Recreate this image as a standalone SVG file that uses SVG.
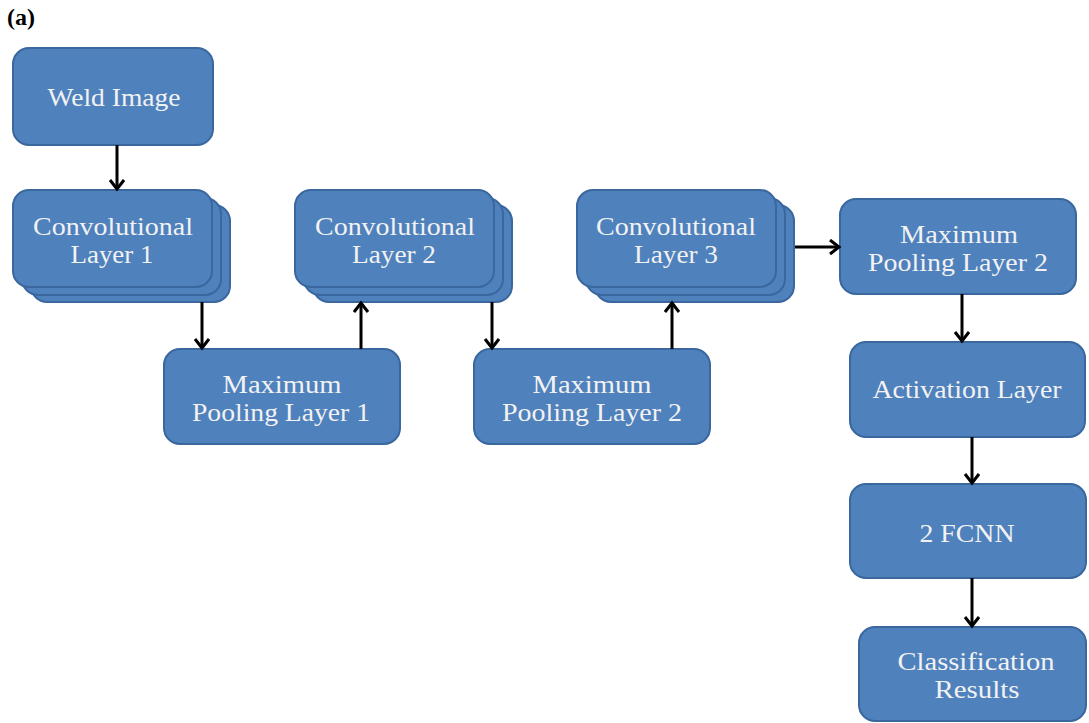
<svg xmlns="http://www.w3.org/2000/svg" width="1089" height="723" viewBox="0 0 1089 723">
<style>
.box{fill:#4F81BD;stroke:#3A679E;stroke-width:2}
.t{font-family:"Liberation Serif","Times New Roman",Times,serif;font-size:26px;fill:#F2F2F2;text-anchor:middle}
.c{fill:none;stroke:#000;stroke-width:3}
</style>
<defs>
<marker id="ah" markerUnits="userSpaceOnUse" markerWidth="20" markerHeight="20" refX="11" refY="8" orient="auto">
<path d="M2,1 L11,8 L2,15" fill="none" stroke="#000" stroke-width="3"/>
</marker>
</defs>
<rect width="1089" height="723" fill="#fff"/>
<text x="7" y="25" font-family="'Liberation Serif','Times New Roman',serif" font-weight="bold" font-size="24" fill="#000">(a)</text>

<g id="weld">
<rect class="box" x="13" y="48" width="200" height="97" rx="16"/>
<text class="t" x="114" y="106" textLength="133" lengthAdjust="spacingAndGlyphs">Weld Image</text>
</g>
<g id="conv1">
<rect class="box" x="31" y="205" width="199" height="97" rx="16"/>
<rect class="box" x="22" y="198" width="199" height="97" rx="16"/>
<rect class="box" x="13" y="190" width="199" height="97" rx="16"/>
<text class="t" x="113" y="235" textLength="160" lengthAdjust="spacingAndGlyphs">Convolutional</text>
<text class="t" x="112" y="263" textLength="83" lengthAdjust="spacingAndGlyphs">Layer 1</text>
</g>
<g id="conv2">
<rect class="box" x="313" y="205" width="199" height="97" rx="16"/>
<rect class="box" x="304" y="198" width="199" height="97" rx="16"/>
<rect class="box" x="295" y="190" width="199" height="97" rx="16"/>
<text class="t" x="395" y="235" textLength="160" lengthAdjust="spacingAndGlyphs">Convolutional</text>
<text class="t" x="394" y="263" textLength="84" lengthAdjust="spacingAndGlyphs">Layer 2</text>
</g>
<g id="conv3">
<rect class="box" x="595" y="205" width="199" height="97" rx="16"/>
<rect class="box" x="586" y="198" width="199" height="97" rx="16"/>
<rect class="box" x="577" y="190" width="199" height="97" rx="16"/>
<text class="t" x="676" y="235" textLength="160" lengthAdjust="spacingAndGlyphs">Convolutional</text>
<text class="t" x="676" y="263" textLength="84" lengthAdjust="spacingAndGlyphs">Layer 3</text>
</g>
<g id="pool1">
<rect class="box" x="164" y="349" width="236" height="95" rx="16"/>
<text class="t" x="282" y="393" textLength="119" lengthAdjust="spacingAndGlyphs">Maximum</text>
<text class="t" x="281" y="421" textLength="178" lengthAdjust="spacingAndGlyphs">Pooling Layer 1</text>
</g>
<g id="pool2">
<rect class="box" x="474" y="349" width="236" height="95" rx="16"/>
<text class="t" x="592" y="393" textLength="119" lengthAdjust="spacingAndGlyphs">Maximum</text>
<text class="t" x="592" y="421" textLength="180" lengthAdjust="spacingAndGlyphs">Pooling Layer 2</text>
</g>
<g id="pool3">
<rect class="box" x="840" y="199" width="236" height="95" rx="16"/>
<text class="t" x="959" y="243" textLength="118" lengthAdjust="spacingAndGlyphs">Maximum</text>
<text class="t" x="958" y="271" textLength="180" lengthAdjust="spacingAndGlyphs">Pooling Layer 2</text>
</g>
<g id="act">
<rect class="box" x="850" y="342" width="235" height="95" rx="16"/>
<text class="t" x="967" y="398" textLength="189" lengthAdjust="spacingAndGlyphs">Activation Layer</text>
</g>
<g id="fcnn">
<rect class="box" x="850" y="484" width="236" height="94" rx="16"/>
<text class="t" x="967" y="542" textLength="95" lengthAdjust="spacingAndGlyphs">2 FCNN</text>
</g>
<g id="cls">
<rect class="box" x="859" y="627" width="227" height="94" rx="16"/>
<text class="t" x="976" y="670" textLength="157" lengthAdjust="spacingAndGlyphs">Classification</text>
<text class="t" x="977" y="698" textLength="85" lengthAdjust="spacingAndGlyphs">Results</text>
</g>

<g id="connectors">
<path class="c" d="M117,145 V189" marker-end="url(#ah)"/>
<path class="c" d="M202,302 V348" marker-end="url(#ah)"/>
<path class="c" d="M361,349 V303" marker-end="url(#ah)"/>
<path class="c" d="M492,302 V348" marker-end="url(#ah)"/>
<path class="c" d="M672,349 V303" marker-end="url(#ah)"/>
<path class="c" d="M795,247 H839" marker-end="url(#ah)"/>
<path class="c" d="M962,294 V341" marker-end="url(#ah)"/>
<path class="c" d="M972,437 V483" marker-end="url(#ah)"/>
<path class="c" d="M972,578 V626" marker-end="url(#ah)"/>
</g>
</svg>
